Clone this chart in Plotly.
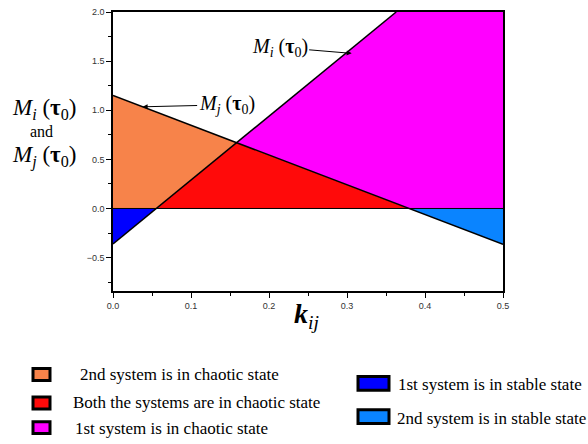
import numpy as np
import plotly.graph_objects as go

# Linear critical curves M_i(tau0) and M_j(tau0) versus coupling k_ij
k_ends = [0.0, 0.5]
Mi_ends = [-0.36, 2.89]
Mj_ends = [1.15, -0.365]
y_top = 2.0

x_ticks = [0.0, 0.1, 0.2, 0.3, 0.4, 0.5]
y_ticks = [-0.5, 0.0, 0.5, 1.0, 1.5, 2.0]

region_names = [
    "2nd system is in chaotic state",
    "Both the systems are in chaotic state",
    "1st system is in chaotic state",
    "1st system is in stable state",
    "2nd system is in stable state",
]
region_colors = ["#F7834A", "#FF0A0A", "#FF00FF", "#0000FF", "#0A84FF"]

# line coefficients
ka, kb = k_ends
mi_s = (Mi_ends[1] - Mi_ends[0]) / (kb - ka)
mj_s = (Mj_ends[1] - Mj_ends[0]) / (kb - ka)
Mi = lambda k: Mi_ends[0] + mi_s * (k - ka)
Mj = lambda k: Mj_ends[0] + mj_s * (k - ka)

k_mi0 = -Mi_ends[0] / mi_s                       # M_i = 0
k_mj0 = -Mj_ends[0] / mj_s                       # M_j = 0
k_x = (Mj_ends[0] - Mi_ends[0]) / (mi_s - mj_s)  # M_i = M_j
k_top = (y_top - Mi_ends[0]) / mi_s              # M_i reaches top

polys = [
    ([0, 0, k_x, k_mi0], [0, Mj(0), Mj(k_x), 0]),
    ([k_mi0, k_x, k_mj0], [0, Mi(k_x), 0]),
    ([k_x, k_top, kb, kb, k_mj0], [Mi(k_x), y_top, y_top, 0, 0]),
    ([0, 0, k_mi0], [0, Mi(0), 0]),
    ([k_mj0, kb, kb], [0, 0, Mj(kb)]),
]

fig = go.Figure()
for (px, py), c in zip(polys, region_colors):
    fig.add_trace(go.Scatter(x=px, y=py, fill="toself", fillcolor=c, mode="none",
                             showlegend=False, hoverinfo="skip"))

# curves and zero line
fig.add_trace(go.Scatter(x=[ka, k_top], y=[Mi(ka), y_top], mode="lines",
                         line=dict(color="black", width=1.5), showlegend=False))
fig.add_trace(go.Scatter(x=k_ends, y=Mj_ends, mode="lines",
                         line=dict(color="black", width=1.5), showlegend=False))
fig.add_trace(go.Scatter(x=k_ends, y=[0, 0], mode="lines",
                         line=dict(color="black", width=1), showlegend=False))

serif = "Liberation Serif"
mi_lbl = "<i>M</i><sub><i>i</i></sub> (<b>τ</b><sub>0</sub>)"
mj_lbl = "<i>M</i><sub><i>j</i></sub> (<b>τ</b><sub>0</sub>)"

W, H = 588, 444
ml, mr, mt, mb = 113, 85, 7, 153
pw, ph = W - ml - mr, H - mt - mb

def to_paper(px, py):
    return (px - ml) / pw, (H - mb - py) / ph

def label(px, py, text, size, anchor="center"):
    x, y = to_paper(px, py)
    return dict(x=x, y=y, xref="paper", yref="paper", text=text, showarrow=False,
                xanchor=anchor, yanchor="middle",
                font=dict(family=serif, size=size, color="black"))

annotations = [
    dict(x=0.038, y=Mj(0.038), xref="x", yref="y", text=mj_lbl, showarrow=True,
         ax=84, ay=-2, arrowhead=2, arrowsize=1, arrowwidth=1, arrowcolor="black",
         font=dict(family=serif, size=20, color="black")),
    dict(x=0.306, y=Mi(0.306) - 0.05, xref="x", yref="y", text=mi_lbl, showarrow=True,
         ax=-72, ay=-6, arrowhead=2, arrowsize=1, arrowwidth=1, arrowcolor="black",
         font=dict(family=serif, size=20, color="black")),
    label(44, 106, mi_lbl, 23),
    label(41, 129, "and", 16),
    label(44, 154, mj_lbl, 23),
    label(306, 316, "<b><i>k</i></b><sub><i>ij</i></sub>", 28),
]

# legend swatches and labels (pixel positions)
legend_items = [
    (33, 370, 50, 382, 78, 376),
    (33, 399, 50, 411, 71, 405),
    (33, 424, 50, 436, 73, 431),
    (358, 378, 389, 392, 396, 386),
    (358, 412, 389, 426, 395, 421),
]

shapes = []
for (x0, y0, x1, y1, tx, ty), c, name in zip(legend_items, region_colors, region_names):
    a0, b0 = to_paper(x0, y1)
    a1, b1 = to_paper(x1, y0)
    shapes.append(dict(type="rect", xref="paper", yref="paper", x0=a0, y0=b0, x1=a1, y1=b1,
                       fillcolor=c, line=dict(color="black", width=3)))
    annotations.append(label(tx, ty, name, 17, anchor="left"))

axis_common = dict(
    ticks="outside", ticklen=5, tickcolor="black", tickformat=".1f",
    showgrid=False, zeroline=False, showline=True, linecolor="black",
    linewidth=1.5, mirror=True,
    tickfont=dict(family="Liberation Sans", size=9, color="#333"),
)

fig.update_layout(
    width=W, height=H,
    margin=dict(l=ml, r=mr, t=mt, b=mb),
    paper_bgcolor="white", plot_bgcolor="white",
    showlegend=False,
    annotations=annotations,
    shapes=shapes,
    xaxis=dict(range=[0, 0.5], tickvals=x_ticks,
               minor=dict(dtick=0.05, ticks="outside", ticklen=3, tickcolor="black"),
               **axis_common),
    yaxis=dict(range=[-0.84, 2.0], tickvals=y_ticks,
               minor=dict(dtick=0.25, ticks="outside", ticklen=3, tickcolor="black"),
               **axis_common),
)

fig.write_html("out.html")
